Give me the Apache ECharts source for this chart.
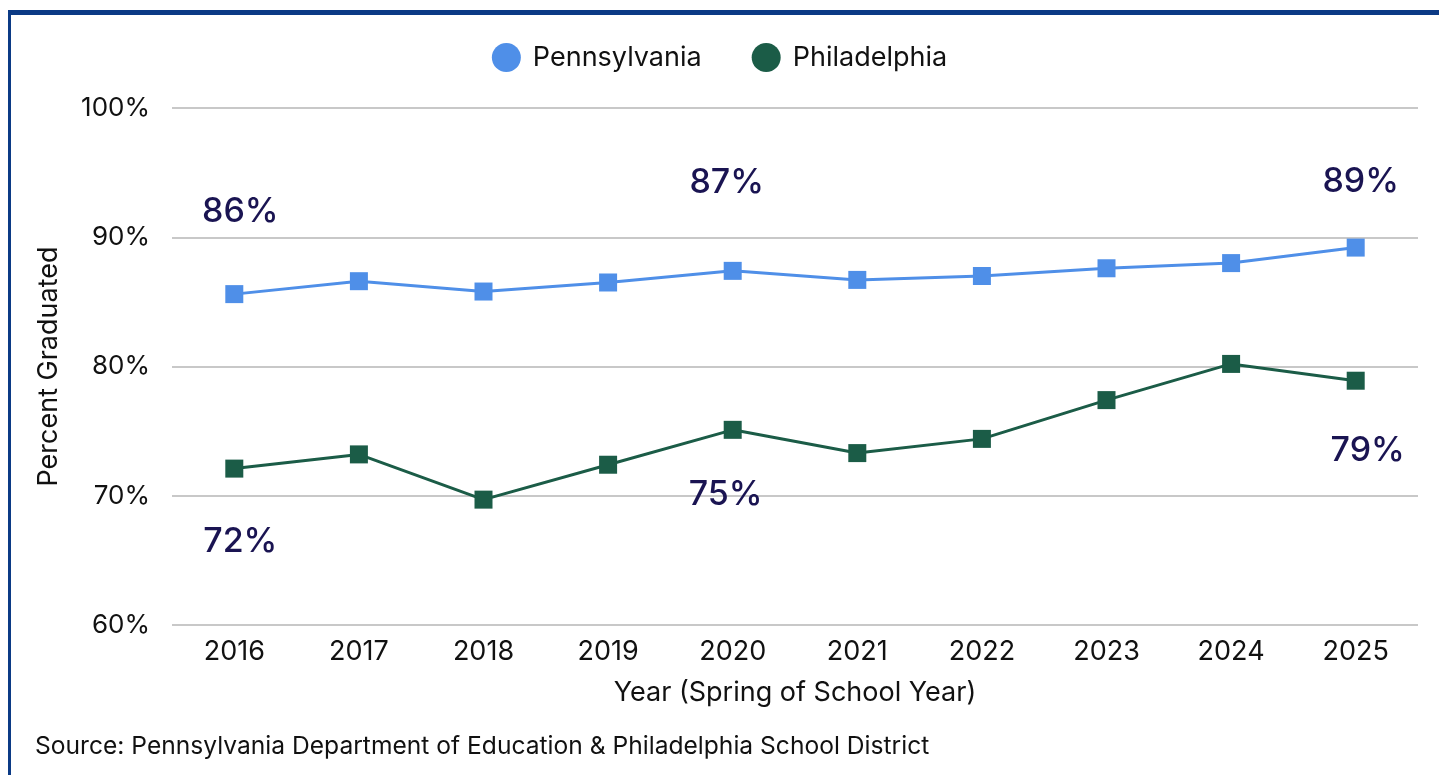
<!DOCTYPE html>
<html>
<head>
<meta charset="utf-8">
<title>Graduation Rates: Pennsylvania vs Philadelphia</title>
<script src="https://cdn.jsdelivr.net/npm/echarts@6/dist/echarts.min.js"></script>
<style>
  html, body { margin: 0; padding: 0; background: #ffffff; }
  #chart { width: 1439px; height: 775px; }
</style>
</head>
<body>
<div id="chart"></div>
<script>
// Four-year graduation rates (percent), spring of each school year
const years = ['2016', '2017', '2018', '2019', '2020', '2021', '2022', '2023', '2024', '2025'];
const pennsylvania = [85.6, 86.6, 85.8, 86.5, 87.4, 86.7, 87.0, 87.6, 88.0, 89.2];
const philadelphia = [72.1, 73.2, 69.7, 72.4, 75.1, 73.3, 74.4, 77.4, 80.2, 78.9];

// Years whose values are called out with a label, and where the label sits
const paCallouts = { 0: [6, -82], 4: [-6, -88], 9: [5, -66] };
const phlCallouts = { 0: [6, 73], 4: [-7, 65], 9: [12, 70] };

const FONT = 'Inter, "Noto Sans", sans-serif';
const LABEL_COLOR = '#1a1452';
const TEXT_COLOR = '#111111';

function withCallouts(values, callouts) {
  return values.map((v, i) => {
    if (!callouts[i]) return v;
    return {
      value: v,
      label: {
        show: true,
        position: 'inside',
        offset: callouts[i],
        formatter: (p) => Math.round(p.value) + '%',
        fontFamily: FONT,
        fontSize: 34,
        fontWeight: 500,
        color: LABEL_COLOR
      }
    };
  });
}

const chart = echarts.init(document.getElementById('chart'), null, { renderer: 'canvas' });

chart.setOption({
  backgroundColor: '#ffffff',
  animation: false,
  textStyle: { fontFamily: FONT },
  legend: {
    top: 38,
    left: 'center',
    icon: 'circle',
    itemWidth: 29,
    itemHeight: 29,
    itemGap: 50,
    textStyle: { fontFamily: FONT, fontSize: 27, color: TEXT_COLOR, padding: [0, 0, 0, 7] },
    data: ['Pennsylvania', 'Philadelphia']
  },
  grid: { left: 172, right: 21, top: 108, bottom: 150, containLabel: false },
  xAxis: {
    type: 'category',
    data: years,
    boundaryGap: true,
    name: 'Year (Spring of School Year)',
    nameLocation: 'middle',
    nameGap: 54,
    nameTextStyle: { fontFamily: FONT, fontSize: 27, color: TEXT_COLOR },
    axisLine: { show: false },
    axisTick: { show: false },
    axisLabel: { margin: 13, fontFamily: FONT, fontSize: 27, color: TEXT_COLOR }
  },
  yAxis: {
    type: 'value',
    min: 60,
    max: 100,
    interval: 10,
    name: 'Percent Graduated',
    nameLocation: 'middle',
    nameGap: 110,
    nameTextStyle: { fontFamily: FONT, fontSize: 27, color: TEXT_COLOR },
    axisLine: { show: false },
    axisTick: { show: false },
    axisLabel: { margin: 22, fontFamily: FONT, fontSize: 26, color: TEXT_COLOR, formatter: '{value}%' },
    splitLine: { lineStyle: { color: '#c8c8c8', width: 2 } }
  },
  series: [
    {
      name: 'Pennsylvania',
      type: 'line',
      data: withCallouts(pennsylvania, paCallouts),
      symbol: 'rect',
      symbolSize: 18,
      itemStyle: { color: '#4f8fe8' },
      lineStyle: { color: '#4f8fe8', width: 3 },
      label: { show: false },
      z: 3
    },
    {
      name: 'Philadelphia',
      type: 'line',
      data: withCallouts(philadelphia, phlCallouts),
      symbol: 'rect',
      symbolSize: 18,
      itemStyle: { color: '#1b5c47' },
      lineStyle: { color: '#1b5c47', width: 3 },
      label: { show: false },
      z: 3
    }
  ],
  graphic: [
    // frame: heavy rule along the top, thinner rule down the left side
    { type: 'rect', left: 8, top: 10, shape: { width: 1431, height: 5 }, style: { fill: '#0b3a85' }, silent: true },
    { type: 'rect', left: 8, top: 10, shape: { width: 3, height: 765 }, style: { fill: '#0b3a85' }, silent: true },
    {
      type: 'text',
      left: 35,
      top: 734,
      style: {
        text: 'Source: Pennsylvania Department of Education & Philadelphia School District',
        font: '24.6px ' + FONT,
        fill: TEXT_COLOR
      }
    }
  ]
});
</script>
</body>
</html>
